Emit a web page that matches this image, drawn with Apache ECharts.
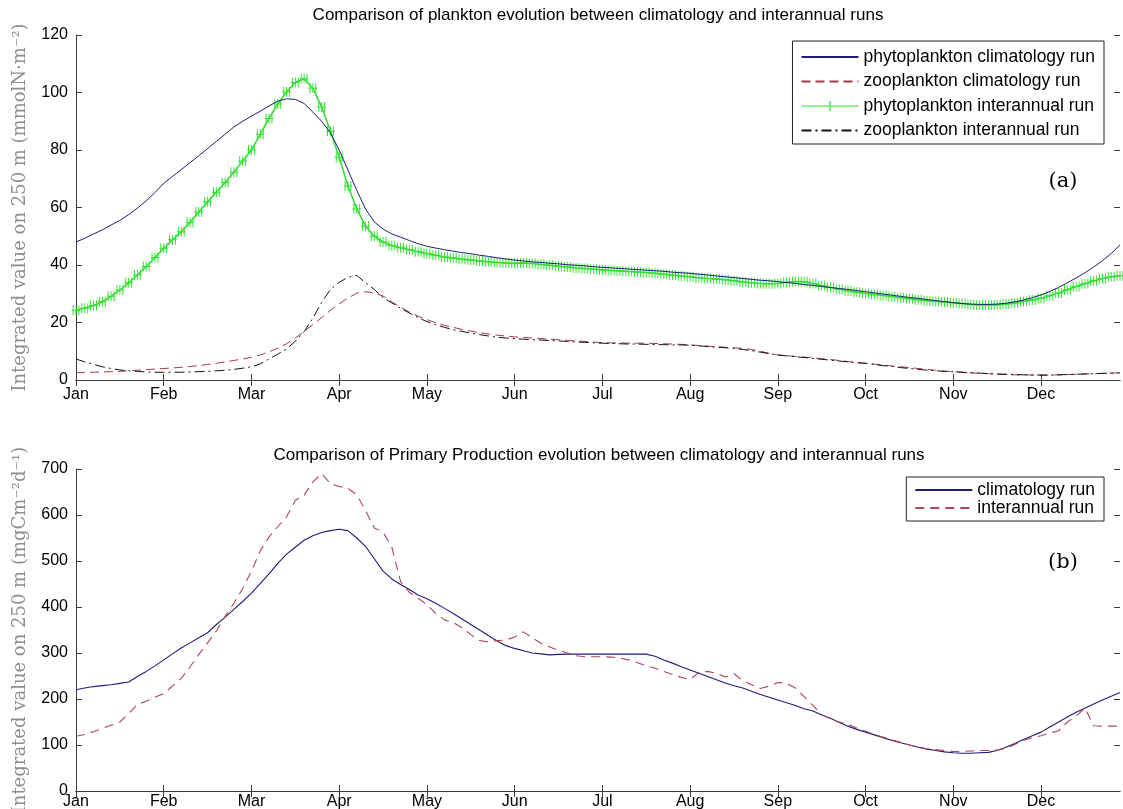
<!DOCTYPE html>
<html>
<head>
<meta charset="utf-8">
<title>Plankton evolution: climatology vs interannual runs</title>
<script src="https://cdn.jsdelivr.net/npm/echarts@6/dist/echarts.min.js"></script>
<style>
  html, body { margin: 0; padding: 0; background: #fff; }
  #chart { width: 1123px; height: 809px; }
</style>
</head>
<body>
<div id="chart"></div>
<script>
// x axis: 10 time steps per month, ticks every month
var months = ['Jan', 'Feb', 'Mar', 'Apr', 'May', 'Jun', 'Jul', 'Aug', 'Sep', 'Oct', 'Nov', 'Dec'];
var stepsPerMonth = 10;

// (a) integrated plankton, mmolN m-2
var phytoClim = [
  48.0, 49.3, 50.8, 52.2, 53.9, 55.5, 57.5, 59.8, 62.3, 65.2,
  68.4, 70.8, 73.2, 75.6, 78.0, 80.5, 83.0, 85.5, 88.0, 90.0,
  91.8, 93.5, 95.3, 97.0, 97.8, 97.6, 96.2, 93.2, 90.0, 86.0,
  80.0, 73.0, 66.0, 59.5, 55.0, 52.5, 50.8, 49.7, 48.5, 47.4,
  46.5, 45.9, 45.3, 44.8, 44.3, 43.9, 43.4, 43.0, 42.5, 42.1,
  41.7, 41.4, 41.1, 40.9, 40.6, 40.4, 40.1, 39.9, 39.7, 39.4,
  39.2, 39.0, 38.8, 38.6, 38.4, 38.2, 38.0, 37.8, 37.5, 37.3,
  37.1, 36.8, 36.5, 36.2, 35.9, 35.6, 35.3, 35.0, 34.7, 34.5,
  34.2, 33.9, 33.6, 33.2, 32.9, 32.5, 32.2, 31.8, 31.5, 31.1,
  30.7, 30.3, 29.9, 29.5, 29.1, 28.7, 28.4, 28.0, 27.6, 27.3,
  26.9, 26.6, 26.4, 26.3, 26.3, 26.4, 26.7, 27.2, 27.8, 28.6,
  29.6, 30.8, 32.2, 33.8, 35.5, 37.3, 39.3, 41.5, 44.0, 47.0
];
var zooClim = [
  2.5, 2.6, 2.7, 2.8, 2.9, 3.0, 3.2, 3.4, 3.6, 3.8,
  4.0, 4.2, 4.4, 4.7, 5.0, 5.4, 5.8, 6.3, 6.8, 7.3,
  7.9, 8.7, 9.8, 11.1, 12.6, 14.6, 16.9, 19.3, 21.7, 24.2,
  26.5, 28.5, 30.2, 30.7, 30.3, 29.2, 27.2, 25.3, 23.6, 22.2,
  21.0, 19.9, 19.0, 18.3, 17.6, 17.0, 16.5, 16.0, 15.6, 15.3,
  15.0, 14.8, 14.6, 14.4, 14.2, 14.0, 13.8, 13.6, 13.4, 13.2,
  13.0, 12.9, 12.9, 12.8, 12.8, 12.8, 12.7, 12.6, 12.5, 12.4,
  12.2, 12.0, 11.8, 11.6, 11.4, 11.2, 11.0, 10.6, 10.0, 9.3,
  8.7, 8.5, 8.2, 8.0, 7.7, 7.4, 7.1, 6.8, 6.4, 6.1,
  5.8, 5.5, 5.2, 4.9, 4.6, 4.3, 4.0, 3.7, 3.4, 3.1,
  2.9, 2.7, 2.5, 2.3, 2.2, 2.0, 1.9, 1.8, 1.8, 1.7,
  1.7, 1.7, 1.8, 1.9, 2.0, 2.1, 2.2, 2.3, 2.4, 2.5
];
var phytoInter = [
  24.3, 25.0, 25.9, 27.2, 29.1, 31.3, 33.8, 36.5, 39.5, 42.6,
  45.8, 48.8, 51.6, 54.9, 58.4, 62.0, 65.3, 68.7, 72.3, 76.2,
  80.0, 85.5, 91.0, 96.0, 100.2, 103.5, 104.8, 101.5, 95.0, 86.5,
  77.5, 67.5, 59.5, 53.5, 50.0, 48.0, 46.8, 46.0, 45.3, 44.6,
  44.0, 43.4, 42.8, 42.4, 42.0, 41.7, 41.4, 41.1, 40.9, 40.7,
  40.6, 40.7, 40.5, 40.2, 39.9, 39.6, 39.3, 39.0, 38.8, 38.5,
  38.3, 38.1, 37.9, 37.7, 37.6, 37.4, 37.1, 36.8, 36.5, 36.2,
  35.9, 35.6, 35.3, 35.1, 34.9, 34.5, 34.1, 33.8, 33.6, 33.5,
  33.6, 34.0, 34.3, 34.2, 33.6, 32.9, 32.2, 31.6, 31.0, 30.5,
  30.1, 29.7, 29.4, 29.0, 28.6, 28.3, 27.9, 27.6, 27.3, 27.1,
  26.9, 26.6, 26.3, 26.1, 26.1, 26.2, 26.4, 26.8, 27.3, 27.8,
  28.4, 29.3, 30.3, 31.4, 32.5, 33.5, 34.5, 35.3, 35.9, 36.3
];
var zooInter = [
  7.3, 6.3, 5.4, 4.6, 4.0, 3.5, 3.2, 3.0, 2.8, 2.7,
  2.7, 2.7, 2.7, 2.8, 2.9, 3.0, 3.2, 3.4, 3.7, 4.1,
  4.6, 5.6, 7.3, 9.0, 10.8, 13.5, 16.8, 21.5, 27.0, 31.5,
  34.0, 35.7, 36.4, 33.8, 31.5, 28.6, 26.8, 25.0, 23.3, 21.7,
  20.3, 19.2, 18.3, 17.5, 16.9, 16.3, 15.8, 15.3, 14.9, 14.6,
  14.4, 14.2, 14.0, 13.9, 13.7, 13.6, 13.4, 13.2, 13.1, 12.9,
  12.8, 12.7, 12.6, 12.5, 12.5, 12.4, 12.3, 12.3, 12.2, 12.2,
  12.1, 11.9, 11.6, 11.4, 11.2, 11.0, 10.6, 10.2, 9.7, 9.2,
  8.7, 8.4, 8.1, 7.8, 7.5, 7.2, 6.9, 6.6, 6.3, 6.0,
  5.8, 5.4, 5.0, 4.7, 4.3, 4.0, 3.7, 3.4, 3.2, 3.0,
  2.9, 2.7, 2.5, 2.4, 2.2, 2.1, 2.0, 1.9, 1.8, 1.8,
  1.7, 1.7, 1.8, 1.9, 2.0, 2.1, 2.2, 2.3, 2.4, 2.5
];

// (b) primary production, mgC m-2 d-1
var ppClim = [
  220, 224, 227, 229, 231, 234, 237, 249, 260, 272,
  285, 298, 311, 322, 333, 344, 362, 378, 395, 412,
  430, 451, 472, 495, 515, 530, 545, 555, 562, 566,
  569, 566, 550, 532, 505, 478, 461, 449, 438, 426,
  418, 408, 397, 386, 374, 362, 350, 338, 326, 316,
  310, 305, 300, 298, 296, 297, 297.5, 297.5, 297.5, 297.5,
  297.5, 297.5, 297.5, 297.5, 297.5, 297.5, 293, 285, 278, 270,
  263, 256, 249, 242, 235, 229, 224, 217, 210, 204,
  198, 192, 186, 179, 174, 165, 158, 149, 141, 134,
  128, 122, 116, 110, 105, 100, 95, 91, 88, 85,
  83, 82, 82, 83, 84, 88, 95, 103, 112, 120,
  128, 139, 150, 161, 171, 180, 189, 198, 206, 214
];
var ppInter = [
  119, 123, 129, 136, 143, 150, 168, 188, 195, 204,
  212, 228, 245, 270, 297, 322, 348, 380, 408, 440,
  478, 522, 552, 575, 596, 632, 643, 672, 690, 668,
  662, 658, 644, 610, 572, 563, 530, 455, 432, 419,
  405, 386, 372, 366, 355, 340, 327, 324, 327, 328,
  335, 346, 333, 321, 313, 306, 300, 294, 292, 292,
  292, 291, 289, 285, 279, 272, 267, 260, 253, 247,
  242, 258, 260, 256, 248, 255, 240, 231, 223, 228,
  236, 234, 224, 205, 186, 166, 157, 150, 145, 137,
  130, 123, 117, 111, 106, 100, 95, 92, 90, 88,
  86, 86, 87, 88, 88, 89, 93, 101, 110, 116,
  120, 126, 131, 150, 163, 180, 142, 141, 141, 141
];

var timeSteps = [];
months.forEach(function (m) {
  for (var k = 0; k < stepsPerMonth; k++) timeSteps.push(m + ' ' + (k + 1));
});

var sans = 'Liberation Sans, Arial, Helvetica, sans-serif';
var serif = 'DejaVu Serif, serif';
var axisColor = '#3a3a3a';
var noDot = 'rgba(0,0,0,0)';
// dense run of '+' marks (the interannual phyto run is marked at every step)
var plusRun = 'path://M1,0H2V10H1Z M4,0H5V10H4Z M7,0H8V10H7Z M0,4.5H9V5.5H0Z';
// legend sample: line with a single '+'
var plusLegend = 'path://M0,6.4H27.9V2H29.1V6.4H57V7.6H29.1V12H27.9V7.6H0Z';

function xAxisFor(gridIndex, position, labelMargin) {
  return {
    type: 'category', gridIndex: gridIndex, position: position,
    data: timeSteps, boundaryGap: false,
    axisLine: { show: true, lineStyle: { color: axisColor, width: 1 } },
    axisTick: { show: true, inside: true, length: 6, interval: stepsPerMonth - 1,
      lineStyle: { color: axisColor } },
    axisLabel: {
      show: position === 'bottom', interval: stepsPerMonth - 1, margin: labelMargin,
      fontFamily: sans, fontSize: 16, color: '#000',
      formatter: function (v) { return v.split(' ')[0]; }
    },
    splitLine: { show: false }
  };
}

function yAxisFor(gridIndex, position, max, step, name) {
  var left = position === 'left';
  return {
    type: 'value', gridIndex: gridIndex, position: position,
    min: 0, max: max, interval: step,
    name: left ? name : '', nameLocation: 'middle', nameGap: 47,
    nameTextStyle: { fontFamily: serif, fontSize: 18, color: '#8e8e8e' },
    axisLine: { show: left, lineStyle: { color: axisColor, width: 1 } },
    axisTick: { show: true, inside: true, length: 6, lineStyle: { color: axisColor } },
    axisLabel: { show: left, margin: 8, fontFamily: sans, fontSize: 16, color: '#000' },
    splitLine: { show: false }
  };
}

function plainLine(name, xi, yi, data, color, width, dash) {
  return {
    name: name, type: 'line', xAxisIndex: xi, yAxisIndex: yi, data: data,
    symbol: 'circle', showSymbol: false,
    lineStyle: { color: color, width: width, type: dash || 'solid' },
    itemStyle: { color: noDot }
  };
}

var legendText = { fontFamily: sans, fontSize: 17.5, lineHeight: 17, color: '#000' };

var chart = echarts.init(document.getElementById('chart'));

chart.setOption({
  animation: false,
  backgroundColor: '#fff',
  grid: [
    { left: 76, right: 3, top: 35, height: 345, outerBoundsMode: 'none' },
    { left: 76, right: 3, top: 469, height: 322, outerBoundsMode: 'none' }
  ],
  xAxis: [
    xAxisFor(0, 'bottom', 7), xAxisFor(0, 'top', 0),
    xAxisFor(1, 'bottom', 3), xAxisFor(1, 'top', 0)
  ],
  yAxis: [
    yAxisFor(0, 'left', 120, 20, 'Integrated value on 250 m (mmolN·m⁻²)'),
    yAxisFor(0, 'right', 120, 20, ''),
    yAxisFor(1, 'left', 700, 100, 'Integrated value on 250 m (mgCm⁻²d⁻¹)'),
    yAxisFor(1, 'right', 700, 100, '')
  ],
  legend: [
    {
      data: [
        'phytoplankton climatology run',
        'zooplankton climatology run',
        { name: 'phytoplankton interannual run', icon: plusLegend },
        'zooplankton interannual run'
      ],
      orient: 'vertical', right: 19, top: 41,
      itemWidth: 57, itemHeight: 14, itemGap: 6.5,
      padding: [7, 9, 4.5, 8],
      borderColor: '#222', borderWidth: 1, borderRadius: 0, backgroundColor: '#fff',
      textStyle: legendText,
      selectedMode: false
    },
    {
      data: ['climatology run', 'interannual run'],
      orient: 'vertical', right: 19, top: 477,
      itemWidth: 57, itemHeight: 12, itemGap: 0,
      padding: [4, 9, 4, 8],
      borderColor: '#222', borderWidth: 1, borderRadius: 0, backgroundColor: '#fff',
      textStyle: legendText,
      selectedMode: false
    }
  ],
  graphic: [
    { type: 'text', x: 598, y: 15,
      style: { text: 'Comparison of plankton evolution between climatology and interannual runs',
        font: '17px ' + sans, fill: '#000', align: 'center', verticalAlign: 'middle',
        textAlign: 'center', textVerticalAlign: 'middle' } },
    { type: 'text', x: 599, y: 455,
      style: { text: 'Comparison of Primary Production evolution between climatology and interannual runs',
        font: '17px ' + sans, fill: '#000', align: 'center', verticalAlign: 'middle',
        textAlign: 'center', textVerticalAlign: 'middle' } },
    { type: 'text', x: 1063, y: 182,
      style: { text: '(a)', font: '21px ' + serif, fill: '#000', align: 'center', verticalAlign: 'middle',
        textAlign: 'center', textVerticalAlign: 'middle' } },
    { type: 'text', x: 1063, y: 563,
      style: { text: '(b)', font: '21px ' + serif, fill: '#000', align: 'center', verticalAlign: 'middle',
        textAlign: 'center', textVerticalAlign: 'middle' } }
  ],
  series: [
    Object.assign(plainLine('phytoplankton climatology run', 0, 0, phytoClim, '#1d1d78', 1), { z: 4 }),
    plainLine('zooplankton climatology run', 0, 0, zooClim, '#a83a48', 1, [9, 5]),
    {
      name: 'phytoplankton interannual run', type: 'line', xAxisIndex: 0, yAxisIndex: 0,
      data: phytoInter, symbol: plusRun, symbolSize: [8.8, 10],
      showSymbol: true, showAllSymbol: true, z: 3,
      lineStyle: { color: '#2fe02f', width: 1.5 }, itemStyle: { color: '#2fe02f' }
    },
    plainLine('zooplankton interannual run', 0, 0, zooInter, '#111', 1, [10, 4, 2, 4]),
    plainLine('climatology run', 2, 2, ppClim, '#1d1d78', 1.1),
    plainLine('interannual run', 2, 2, ppInter, '#b04656', 1.1, [9, 6])
  ]
});
</script>
</body>
</html>
